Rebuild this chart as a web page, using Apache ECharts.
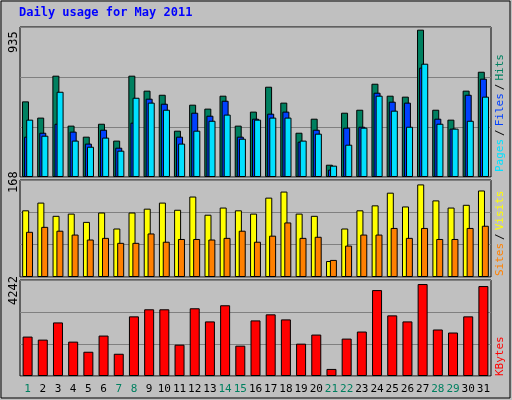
<!DOCTYPE html><html><head><meta charset="utf-8">
<script src="https://cdn.jsdelivr.net/npm/echarts@6/dist/echarts.min.js"></script>
<style>html,body{margin:0;padding:0;background:#c0c0c0}#c{width:512px;height:400px}</style></head><body><div id="c"></div><script>
const days=['1','2','3','4','5','6','7','8','9','10','11','12','13','14','15','16','17','18','19','20','21','22','23','24','25','26','27','28','29','30','31'];
const weekend=['1','7','8','14','15','21','22','28','29'];
const hits=[480,377,643,326,256,338,231,643,548,522,294,459,434,516,326,415,573,472,281,370,78,408,427,592,516,510,935,427,364,548,668];
const files=[256,281,338,288,212,300,186,345,497,465,256,408,389,484,256,370,402,415,224,300,47,313,319,535,478,472,694,370,307,522,624];
const pages=[364,262,541,231,192,250,167,503,472,427,212,294,357,396,243,364,377,377,231,275,72,205,313,516,421,319,719,338,307,357,510];
const sites=[121,135,111,115,100,117,88,117,124,135,122,146,113,126,121,115,144,155,115,111,29,88,121,130,153,128,168,139,126,131,157];
const visits=[82,91,84,77,68,71,62,62,79,64,69,69,68,71,84,64,75,99,71,73,31,57,77,77,89,71,89,69,69,89,93];
const kbytes=[1818,1678,2471,1585,1119,1865,1026,2751,3077,3077,1445,3124,2518,3263,1399,2564,2844,2611,1492,1911,326,1725,2051,3963,2797,2518,4242,2145,2005,2751,4149];
const maxLabels=['935','168','4242'];
const ch=echarts.init(document.getElementById('c'));
const F='DejaVu Sans Mono';
const grids=[{left:20,right:21,top:27,height:150},{left:20,right:21,top:180,height:97},{left:20,right:21,top:280,height:96}];
const maxes=[952,176,4428];
const bs={borderColor:'#000',borderWidth:1};
function xa(i,show){return {type:'category',data:days,gridIndex:i,axisTick:{show:false},axisLine:{show:false},
 axisLabel:{show:show,interval:0,fontFamily:F,fontSize:11,margin:8,color:(v)=>weekend.includes(v)?'#008060':'#000'}};}
function ya(i){return {type:'value',gridIndex:i,min:0,max:maxes[i],interval:maxes[i]/3,axisLabel:{show:false},axisLine:{show:false},axisTick:{show:false},splitLine:{lineStyle:{color:'#808080',width:1}}};}
function bar(name,data,i,color,gap,w){return {name,type:'bar',data,xAxisIndex:i,yAxisIndex:i,barWidth:w,barGap:gap,itemStyle:Object.assign({color},bs),animation:false};}
ch.setOption({
 backgroundColor:'#c0c0c0',animation:false,
 grid:grids.map(g=>Object.assign({show:true,borderColor:'#000',borderWidth:1,backgroundColor:'#c0c0c0'},g)),
 xAxis:[xa(0,false),xa(1,false),xa(2,true)],
 yAxis:[ya(0),ya(1),ya(2)],
 series:[bar('Hits',hits,0,'#008060','-70%',7),bar('Files',files,0,'#0040ff','-70%',7),bar('Pages',pages,0,'#00e0ff','-70%',7),
  bar('Sites',sites,1,'#ffff00','-45%',7),bar('Visits',visits,1,'#ff8000','-45%',7),bar('KBytes',kbytes,2,'#ff0000','30%',10)],
 graphic:[
  {type:'rect',shape:{x:1,y:1,width:509,height:397},style:{fill:'none',stroke:'#000',lineWidth:1}},
  {type:'text',left:19,top:7,style:{text:'Daily usage for May 2011',fill:'#0000ff',font:'bold 12px "DejaVu Sans Mono"'}},
  {type:'text',x:8,y:53,rotation:Math.PI/2,style:{text:maxLabels[0],fill:'#000',font:'12px "DejaVu Sans Mono"'}},
  {type:'text',x:8,y:193,rotation:Math.PI/2,style:{text:maxLabels[1],fill:'#000',font:'12px "DejaVu Sans Mono"'}},
  {type:'text',x:8,y:305,rotation:Math.PI/2,style:{text:maxLabels[2],fill:'#000',font:'12px "DejaVu Sans Mono"'}},
  {type:'text',x:495,y:172,rotation:Math.PI/2,style:{text:'{p|Pages}{s|/}{f|Files}{s|/}{h|Hits}',font:'11px "DejaVu Sans Mono"',rich:{p:{fill:'#00e0ff'},s:{fill:'#000',padding:[0,3]},f:{fill:'#0040ff'},h:{fill:'#008060'}}}},
  {type:'text',x:495,y:276,rotation:Math.PI/2,style:{text:'{v|Sites}{s|/}{y|Visits}',font:'11px "DejaVu Sans Mono"',rich:{v:{fill:'#ff8000'},s:{fill:'#000',padding:[0,3]},y:{fill:'#ffff00'}}}},
  {type:'text',x:495,y:376,rotation:Math.PI/2,style:{text:'KBytes',fill:'#ff0000',font:'11px "DejaVu Sans Mono"'}}
 ]
});
</script></body></html>
